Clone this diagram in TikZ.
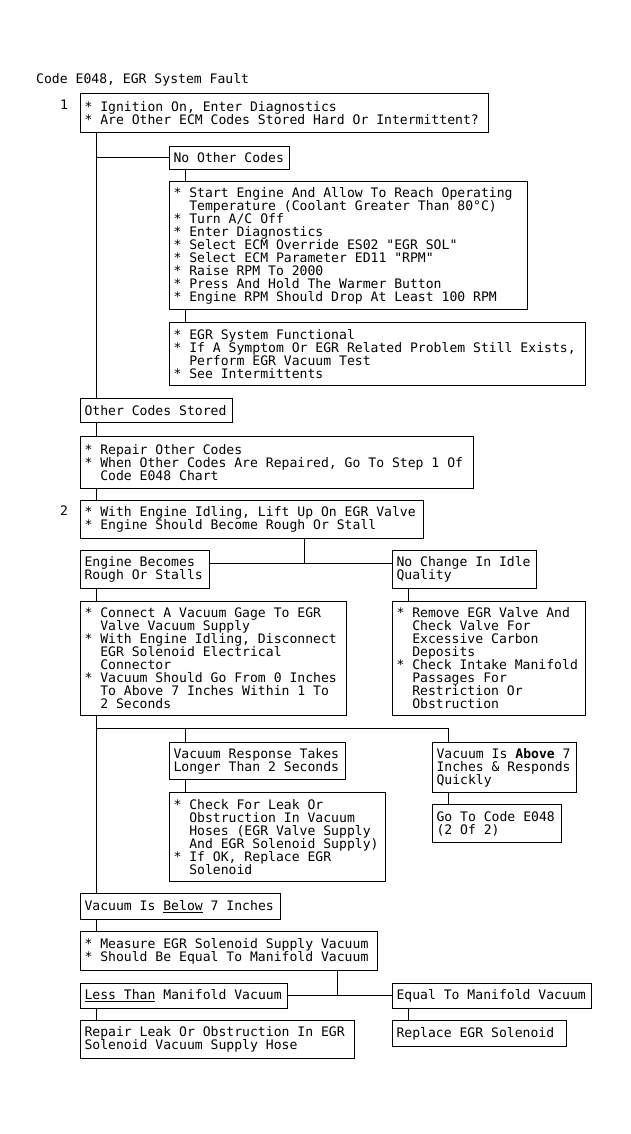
\documentclass[tikz,border=0pt]{standalone}
\usepackage{fontspec}
\newfontfamily\chartfont{DejaVu Sans Mono}
\newcommand{\egrFont}{\chartfont\fontsize{13.1pt}{13pt}\selectfont}
% fixed-width spaces for the chart font
\newcommand{\egrSpace}{\spaceskip=\fontcharwd\font`0\relax\xspaceskip=\spaceskip}
\newcommand{\ind}{\phantom{**}}
\begin{document}
\begin{tikzpicture}[
    x=1pt, y=-1pt,
    egrBox/.style={draw, line width=1pt, anchor=north west, align=flush left, inner xsep=4pt, inner ysep=0pt,
        font=\egrFont, execute at begin node=\egrSpace},
    egrText/.style={inner sep=0pt, font=\egrFont},
    egrLine/.style={line width=1pt}
]
\useasboundingbox (0,0) rectangle (631,1134);

% title
\node[egrText, anchor=west] (title) at (36,80) {Code E048, EGR System Fault};

% Step 1
\node[egrText] (s1) at (64,105) {1};
\node[egrBox, text width=400pt, minimum height=39pt] (b1) at (80,93)
  {* Ignition On, Enter Diagnostics\\{*} Are Other ECM Codes Stored Hard Or Intermittent?};
\node[egrBox, text width=112pt, minimum height=23pt] (n1) at (169,146) {No Other Codes};
\node[egrBox, text width=350pt, minimum height=128pt] (b3) at (169,181)
  {* Start Engine And Allow To Reach Operating\\
   \ind Temperature (Coolant Greater Than 80°C)\\
   {*} Turn A/C Off\\
   {*} Enter Diagnostics\\
   {*} Select ECM Override ES02 "EGR SOL"\\
   {*} Select ECM Parameter ED11 "RPM"\\
   {*} Raise RPM To 2000\\
   {*} Press And Hold The Warmer Button\\
   {*} Engine RPM Should Drop At Least 100 RPM};
\node[egrBox, text width=408pt, minimum height=63pt] (b4) at (169,322)
  {* EGR System Functional\\
   {*} If A Symptom Or EGR Related Problem Still Exists,\\
   \ind Perform EGR Vacuum Test\\
   {*} See Intermittents};
\node[egrBox, text width=144pt, minimum height=24pt] (o1) at (80,398) {Other Codes Stored};
\node[egrBox, text width=385pt, minimum height=52pt] (b5) at (80,436)
  {* Repair Other Codes\\
   {*} When Other Codes Are Repaired, Go To Step 1 Of\\
   \ind Code E048 Chart};

\draw[egrLine] ([xshift=16pt]b1.south west) -- ([xshift=16pt]o1.north west);
\draw[egrLine] ([xshift=16pt]b1.south west |- n1.west) -- (n1.west);
\draw[egrLine] ([xshift=16pt]n1.south west) -- ([xshift=16pt]b3.north west);
\draw[egrLine] ([xshift=16pt]b3.south west) -- ([xshift=16pt]b4.north west);
\draw[egrLine] ([xshift=16pt]o1.south west) -- ([xshift=16pt]b5.north west);

% Step 2
\node[egrText] (s2) at (64,511) {2};
\node[egrBox, text width=335pt, minimum height=38pt] (b6) at (80,500)
  {* With Engine Idling, Lift Up On EGR Valve\\{*} Engine Should Become Rough Or Stall};
\node[egrBox, text width=121pt, minimum height=38pt] (e1) at (80,550) {Engine Becomes\\Rough Or Stalls};
\node[egrBox, text width=136pt, minimum height=38pt] (e2) at (392,550) {No Change In Idle\\Quality};
\node[egrBox, text width=258pt, minimum height=114pt] (b7) at (80,601)
  {* Connect A Vacuum Gage To EGR\\
   \ind Valve Vacuum Supply\\
   {*} With Engine Idling, Disconnect\\
   \ind EGR Solenoid Electrical\\
   \ind Connector\\
   {*} Vacuum Should Go From 0 Inches\\
   \ind To Above 7 Inches Within 1 To\\
   \ind 2 Seconds};
\node[egrBox, text width=185pt, minimum height=114pt] (b8) at (392,601)
  {* Remove EGR Valve And\\
   \ind Check Valve For\\
   \ind Excessive Carbon\\
   \ind Deposits\\
   {*} Check Intake Manifold\\
   \ind Passages For\\
   \ind Restriction Or\\
   \ind Obstruction};

\draw[egrLine] ([xshift=16pt]b5.south west) -- ([xshift=16pt]b6.north west);
\coordinate (j1) at (304,563);
\draw[egrLine] (b6.south -| j1) -- (j1);
\draw[egrLine] (e1.east |- j1) -- (e2.west |- j1);
\draw[egrLine] ([xshift=16pt]e1.south west) -- ([xshift=16pt]b7.north west);
\draw[egrLine] ([xshift=16pt]e2.south west) -- ([xshift=16pt]b8.north west);

% vacuum gage results
\node[egrBox, text width=168pt, minimum height=37pt] (v1) at (169,742) {Vacuum Response Takes\\Longer Than 2 Seconds};
\node[egrBox, text width=208pt, minimum height=89pt] (b9) at (169,792)
  {* Check For Leak Or\\
   \ind Obstruction In Vacuum\\
   \ind Hoses (EGR Valve Supply\\
   \ind And EGR Solenoid Supply)\\
   {*} If OK, Replace EGR\\
   \ind Solenoid};
\node[egrBox, text width=136pt, minimum height=50pt] (v2) at (432,742)
  {Vacuum Is \textbf{Above} 7\\Inches \& Responds\\Quickly};
\node[egrBox, text width=121pt, minimum height=38pt] (g1) at (432,804) {Go To Code E048\\(2 Of 2)};
\node[egrBox, text width=192pt, minimum height=26pt] (v3) at (80,893) {Vacuum Is \underline{Below} 7 Inches};
\node[egrBox, text width=289pt, minimum height=39pt] (b10) at (80,931)
  {* Measure EGR Solenoid Supply Vacuum\\{*} Should Be Equal To Manifold Vacuum};
\node[egrBox, text width=199pt, minimum height=25pt] (l1) at (80,983) {\underline{Less Than} Manifold Vacuum};
\node[egrBox, text width=191pt, minimum height=25pt] (l2) at (392,983) {Equal To Manifold Vacuum};
\node[egrBox, text width=266pt, minimum height=38pt] (r1) at (80,1020)
  {Repair Leak Or Obstruction In EGR\\Solenoid Vacuum Supply Hose};
\node[egrBox, text width=166pt, minimum height=26pt] (r2) at (392,1020) {Replace EGR Solenoid};

\draw[egrLine] ([xshift=16pt]b7.south west) -- ([xshift=16pt]v3.north west);
\coordinate (j3) at (96,728);
\draw[egrLine] (j3) -| ([xshift=16pt]v2.north west);
\draw[egrLine] ([xshift=16pt]v1.north west |- j3) -- ([xshift=16pt]v1.north west);
\draw[egrLine] ([xshift=16pt]v1.south west) -- ([xshift=16pt]b9.north west);
\draw[egrLine] ([xshift=16pt]v2.south west) -- ([xshift=16pt]g1.north west);
\draw[egrLine] ([xshift=16pt]v3.south west) -- ([xshift=16pt]b10.north west);
\coordinate (j2) at (337,995);
\draw[egrLine] (b10.south -| j2) -- (j2);
\draw[egrLine] (l1.east |- j2) -- (l2.west |- j2);
\draw[egrLine] ([xshift=16pt]l1.south west) -- ([xshift=16pt]r1.north west);
\draw[egrLine] ([xshift=16pt]l2.south west) -- ([xshift=16pt]r2.north west);
\end{tikzpicture}
\end{document}
